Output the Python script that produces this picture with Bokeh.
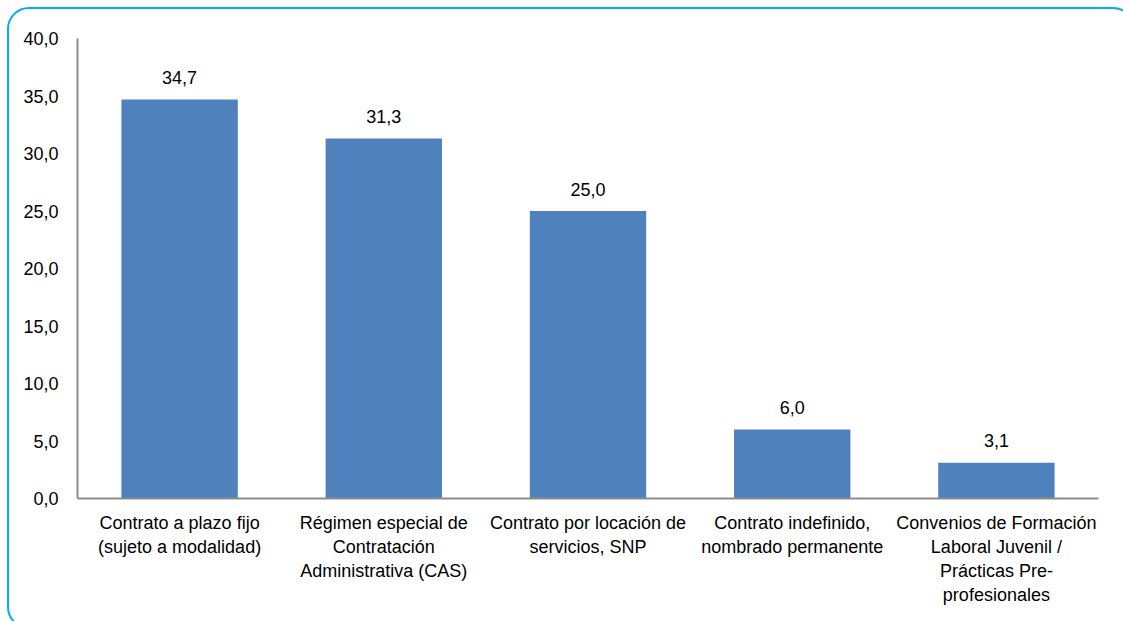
from bokeh.plotting import figure
from bokeh.models import ColumnDataSource, Range1d, FactorRange, FixedTicker, CustomJSTickFormatter, InlineStyleSheet
from bokeh.core.properties import value
from bokeh.embed import file_html
from bokeh.resources import INLINE

categories = [
    "Contrato a plazo fijo\n(sujeto a modalidad)",
    "Régimen especial de\nContratación\nAdministrativa (CAS)",
    "Contrato por locación de\nservicios, SNP",
    "Contrato indefinido,\nnombrado permanente",
    "Convenios de Formación\nLaboral Juvenil /\nPrácticas Pre-\nprofesionales",
]
values = [34.7, 31.3, 25.0, 6.0, 3.1]
y_ticks = [0, 5, 10, 15, 20, 25, 30, 35, 40]

labels = [f"{v:.1f}".replace(".", ",") for v in values]
src = ColumnDataSource(dict(cat=categories, val=values, lab=labels))

FONT = "Liberation Sans"
FS = "18px"

p = figure(width=1123, height=621, x_range=FactorRange(*categories, range_padding=0),
           y_range=Range1d(0, 40), output_backend="svg", toolbar_location=None,
           min_border_left=77, min_border_right=25, min_border_top=38, min_border_bottom=123)
p.outline_line_color = None
p.grid.visible = False
p.background_fill_color = "white"
p.border_fill_color = "white"

p.vbar(x="cat", top="val", width=0.57, source=src, fill_color="#4F81BD", line_color=None)
p.text(x="cat", y="val", text="lab", source=src, text_align="center", text_baseline="alphabetic",
       y_offset=-22, text_font=value(FONT), text_font_size=FS, text_color="#000000")

ya = p.yaxis[0]
ya.ticker = FixedTicker(ticks=y_ticks)
ya.formatter = CustomJSTickFormatter(code="return tick.toFixed(1).replace('.', ',');")
ya.major_tick_line_color = None
ya.minor_tick_line_color = None
ya.major_tick_out = 0
ya.major_tick_in = 0
ya.major_label_standoff = 19
ya.axis_line_color = "#8C8C8C"
ya.axis_line_width = 2
ya.major_label_text_font = FONT
ya.major_label_text_font_size = FS
ya.major_label_text_color = "#000000"

xa = p.xaxis[0]
xa.major_tick_line_color = None
xa.major_tick_out = 0
xa.major_tick_in = 0
xa.major_label_standoff = 14
xa.axis_line_color = "#8C8C8C"
xa.axis_line_width = 2
xa.major_label_text_font = FONT
xa.major_label_text_font_size = FS
xa.major_label_text_color = "#000000"
xa.major_label_orientation = "horizontal"

border_css = InlineStyleSheet(css="""
:host { position: relative; overflow: hidden; }
:host::after {
  content: '';
  position: absolute;
  left: 7px; top: 7px; right: -12px; bottom: -8px;
  box-sizing: border-box;
  border: 2px solid #00B0F0;
  border-radius: 22px;
  pointer-events: none;
}
""")
p.stylesheets = [border_css]

open("out.html", "w").write(file_html(p, INLINE))
